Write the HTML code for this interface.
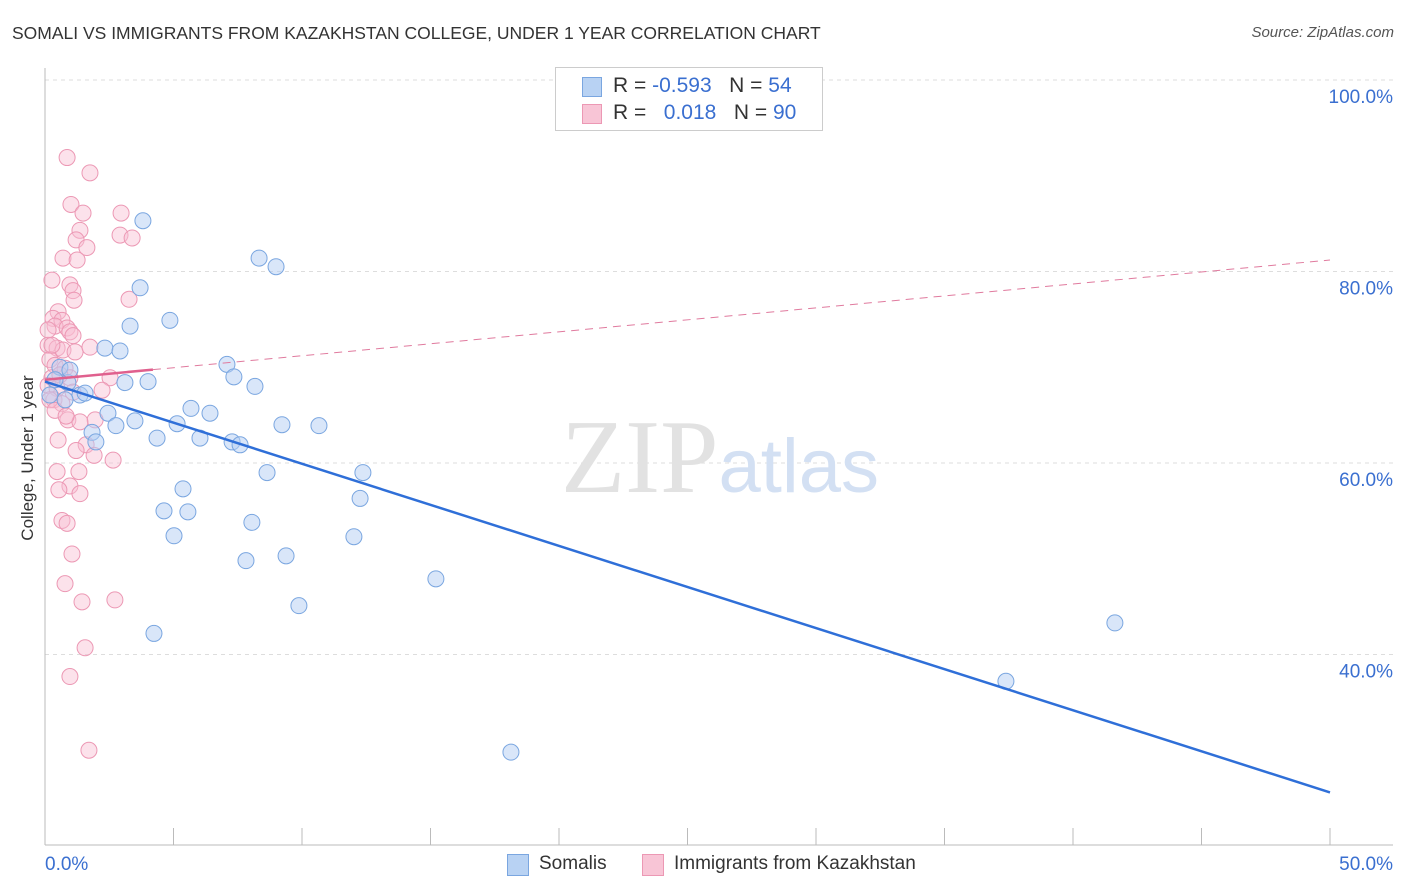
<!DOCTYPE html>
<html><head><meta charset="utf-8"><style>
body{margin:0;background:#fff;font-family:"Liberation Sans",sans-serif;}
#wrap{position:relative;width:1406px;height:892px;overflow:hidden}
.t{position:absolute;white-space:nowrap}
</style></head><body><div id="wrap">
<div class="t" style="left:12px;top:23px;font-size:17.5px;color:#333">SOMALI VS IMMIGRANTS FROM KAZAKHSTAN COLLEGE, UNDER 1 YEAR CORRELATION CHART</div>
<div class="t" style="right:12px;top:24px;font-size:15px;color:#555;font-style:italic">Source: ZipAtlas.com</div>
<svg id="svg" width="1406" height="892" style="position:absolute;left:0;top:0"></svg>
<div class="t" style="left:555px;top:67px;width:266px;height:62px;border:1px solid #ccc;background:#fff">
<div style="position:absolute;left:26px;top:9px;width:18px;height:18px;background:#b8d2f3;border:1px solid #7aa6e0"></div>
<div style="position:absolute;left:26px;top:36px;width:18px;height:18px;background:#f8c5d6;border:1px solid #ec98b4"></div>
<div class="t" style="left:57px;top:6px;font-size:21px;color:#333">R = <span style="color:#3a6fd0">-0.593</span>&nbsp;&nbsp;&nbsp;N = <span style="color:#3a6fd0">54</span></div>
<div class="t" style="left:57px;top:33px;font-size:21px;color:#333">R = &nbsp;&nbsp;<span style="color:#3a6fd0">0.018</span>&nbsp;&nbsp;&nbsp;N = <span style="color:#3a6fd0">90</span></div>
</div>
<div class="t" style="left:18px;top:458px;transform:translate(0,-50%) rotate(-90deg);transform-origin:center;font-size:17px;color:#333;width:20px;text-align:center;line-height:20px"><span style="display:inline-block;transform:translateX(-80px);width:180px">College, Under 1 year</span></div>
<div class="t" style="left:507px;top:854px;width:20px;height:20px;background:#b8d2f3;border:1px solid #7aa6e0"></div>
<div class="t" style="left:539px;top:853px;font-size:19px;color:#333">Somalis</div>
<div class="t" style="left:642px;top:854px;width:20px;height:20px;background:#f8c5d6;border:1px solid #ec98b4"></div>
<div class="t" style="left:674px;top:853px;font-size:19px;color:#333">Immigrants from Kazakhstan</div>
</div>
<script>
const xTicks=[0,50];
const xTickLabels=["0.0%","50.0%"];
const yTicks=[100,80,60,40];
const yTickLabels=["100.0%","80.0%","60.0%","40.0%"];
const blueX=[3.81,8.33,8.99,3.70,4.86,3.31,2.33,2.92,7.08,0.58,7.35,4.01,3.11,8.17,0.89,1.36,2.45,5.68,6.42,3.50,2.76,5.14,9.22,10.66,1.83,4.36,6.03,7.28,7.59,1.98,8.64,12.37,5.37,12.26,4.63,5.56,8.05,5.02,12.02,9.38,7.82,15.21,9.88,4.24,41.63,37.39,18.13,0.19,0.39,0.97,1.56,0.78];
const blueY=[85.3,81.4,80.5,78.3,74.9,74.3,72.0,71.7,70.3,70.0,69.0,68.5,68.4,68.0,68.4,67.1,65.2,65.7,65.2,64.4,63.9,64.1,64.0,63.9,63.2,62.6,62.6,62.2,61.9,62.2,59.0,59.0,57.3,56.3,55.0,54.9,53.8,52.4,52.3,50.3,49.8,47.9,45.1,42.2,43.3,37.2,29.8,67.1,68.7,69.7,67.3,66.6];
const pinkX=[0.86,1.75,1.01,1.48,2.96,1.36,2.92,3.39,1.21,1.63,0.70,1.25,0.27,0.97,1.09,1.13,3.27,0.51,0.31,0.66,0.39,0.86,0.97,1.09,0.12,0.47,0.70,1.17,1.75,0.19,0.39,0.78,0.27,0.97,2.53,0.12,0.47,1.09,2.22,0.35,0.66,0.89,1.95,1.36,0.51,1.60,1.91,1.21,2.65,0.47,1.32,0.97,0.54,1.36,0.66,0.86,1.05,0.78,1.44,2.72,1.56,0.97,1.71,0.19,0.12,0.27,0.58,0.39,0.82];
const pinkY=[91.9,90.3,87.0,86.1,86.1,84.3,83.8,83.5,83.3,82.5,81.4,81.2,79.1,78.6,78.0,77.0,77.1,75.8,75.1,74.9,74.3,74.1,73.7,73.3,72.3,72.0,71.8,71.6,72.1,70.8,70.2,69.9,68.9,68.9,68.9,68.1,67.8,67.4,67.6,66.6,66.2,64.5,64.5,64.3,62.4,61.9,60.8,61.3,60.3,59.1,59.1,57.6,57.2,56.8,54.0,53.7,50.5,47.4,45.5,45.7,40.7,37.7,30.0,66.6,73.9,72.3,69.2,65.5,64.9];
const blueTrend=[68.5,25.6];
const pinkTrend=[68.7,81.2];
const pinkSolidEnd=4.2;

const X=v=>45+v*25.7, Y=v=>80+(100-v)*9.575;
const svg=document.getElementById('svg'),NS='http://www.w3.org/2000/svg';
function mk(t,a){const e=document.createElementNS(NS,t);for(const k in a)e.setAttribute(k,a[k]);svg.appendChild(e);return e;}
yTicks.forEach((v,i)=>{
 const g=mk('line',{x1:45,x2:1393,y1:Y(v),y2:Y(v),stroke:'#ddd','stroke-dasharray':'4,4'});
 
 
 const t=mk('text',{x:1393,y:Y(v)+23,'text-anchor':'end','font-size':19,fill:'#3a6fd0','font-family':'Liberation Sans'});
 t.textContent=yTickLabels[i];
 
 
});
const ya=mk('line',{x1:45,x2:45,y1:68,y2:845,stroke:'#bbb'});


const xa=mk('line',{x1:45,x2:1393,y1:845,y2:845,stroke:'#bbb'});


for(let i=0;i<=10;i++){const tk=mk('line',{x1:X(i*5),x2:X(i*5),y1:828,y2:845,stroke:'#bbb'});
 
 }
xTicks.forEach((v,i)=>{const t=mk('text',{x:i==0?X(v):1393,y:870,'text-anchor':i==0?'start':'end','font-size':19,fill:'#3a6fd0','font-family':'Liberation Sans'});
 t.textContent=xTickLabels[i];
 
 });
const wm=mk('text',{x:720,y:492,'text-anchor':'middle','font-size':105,'font-family':'Liberation Serif',fill:'#e2e2e2'});
wm.innerHTML='ZIP<tspan font-family="Liberation Sans" font-size="76" fill="#d3e0f3">atlas</tspan>';


pinkX.forEach((x,i)=>{const c=mk('circle',{cx:X(x),cy:Y(pinkY[i]),r:8,fill:'rgba(248,190,210,0.45)',stroke:'#ec98b4','stroke-width':1});
 
 });
blueX.forEach((x,i)=>{const c=mk('circle',{cx:X(x),cy:Y(blueY[i]),r:8,fill:'rgba(180,206,243,0.5)',stroke:'#7aa6e0','stroke-width':1});
 
 });
const pt=x=>pinkTrend[0]+(pinkTrend[1]-pinkTrend[0])*x/50;
const pd=mk('line',{x1:X(pinkSolidEnd),y1:Y(pt(pinkSolidEnd)),x2:X(50),y2:Y(pinkTrend[1]),stroke:'#e07a9e','stroke-width':1,'stroke-dasharray':'8,6'});


const ps=mk('line',{x1:X(0),y1:Y(pinkTrend[0]),x2:X(pinkSolidEnd),y2:Y(pt(pinkSolidEnd)),stroke:'#e0608e','stroke-width':2.5});


const bl=mk('line',{x1:X(0),y1:Y(blueTrend[0]),x2:X(50),y2:Y(blueTrend[1]),stroke:'#2f6fd8','stroke-width':2.5});


</script></body></html>
